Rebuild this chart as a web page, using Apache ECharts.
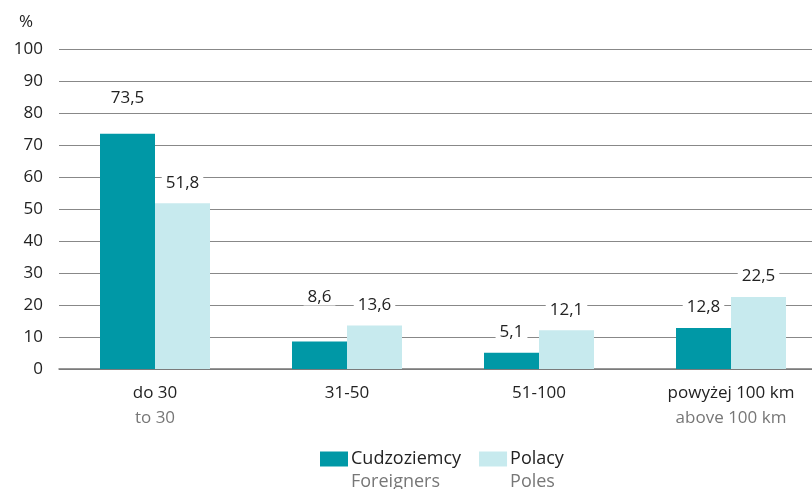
<!DOCTYPE html>
<html>
<head>
<meta charset="utf-8">
<script src="https://cdn.jsdelivr.net/npm/echarts@6/dist/echarts.min.js"></script>
<style>
  html, body { margin: 0; padding: 0; background: #fff; }
  #chart { width: 812px; height: 489px; }
</style>
</head>
<body>
<div id="chart"></div>
<script>
var categoriesPl = ["do 30", "31-50", "51-100", "powyżej 100 km"];
var categoriesEn = ["to 30", "", "", "above 100 km"];
var foreigners = [73.5, 8.6, 5.1, 12.8];
var poles = [51.8, 13.6, 12.1, 22.5];
var seriesPl = ["Cudzoziemcy", "Polacy"];
var seriesEn = ["Foreigners", "Poles"];

var FONT = "Open Sans";
var dom = document.getElementById("chart"), myChart = echarts.init(dom);

// extra lift for a couple of value labels, as placed in the original
var labelLift = [[15, 24, 0, 0], [0, 0, 0, 0]];

function fmt(v) { return String(v.toFixed(1)).replace(".", ","); }

function barSeries(idx, values, color) {
    return {
        name: seriesPl[idx],
        type: "bar",
        barWidth: 55,
        barGap: 0,
        itemStyle: { color: color },
        label: {
            show: true,
            position: "top",
            distance: 12,
            color: "#222",
            fontSize: 17,
            fontFamily: FONT,
            backgroundColor: "#fff",
            padding: [0, 4],
            formatter: function (p) { return fmt(p.value); }
        },
        data: values.map(function (v, i) {
            return { value: v, label: { distance: 12 + labelLift[idx][i] } };
        })
    };
}

var option = {
    animation: false,
    textStyle: { fontFamily: FONT },
    grid: { left: 59, width: 768, top: 49, bottom: 120, containLabel: false, outerBoundsMode: "none" },
    xAxis: {
        type: "category",
        data: categoriesPl,
        axisLine: { lineStyle: { color: "#777", width: 1.5 } },
        axisTick: { show: false },
        axisLabel: {
            margin: 12,
            formatter: function (v, i) {
                return "{a|" + v + "}\n{b|" + categoriesEn[i] + "}";
            },
            rich: {
                a: { fontSize: 17, color: "#222", lineHeight: 25, fontFamily: FONT },
                b: { fontSize: 17, color: "#777", lineHeight: 25, fontFamily: FONT }
            }
        }
    },
    yAxis: {
        type: "value",
        min: 0, max: 100, interval: 10,
        name: "%",
        nameGap: 18,
        nameTextStyle: { fontSize: 17, color: "#222", align: "right", padding: [0, 26, 0, 0], fontFamily: FONT },
        axisLine: { show: false },
        axisTick: { show: false },
        axisLabel: { fontSize: 17, color: "#222", margin: 16, fontFamily: FONT },
        splitLine: { lineStyle: { color: "#888", width: 1 } }
    },
    legend: {
        bottom: -7,
        left: 315,
        itemWidth: 28,
        itemHeight: 15,
        itemGap: 18,
        icon: "rect",
        data: seriesPl,
        formatter: function (n) {
            var i = seriesPl.indexOf(n);
            return "{e| }\n{a|" + n + "}\n{b|" + seriesEn[i] + "}";
        },
        textStyle: {
            padding: [0, 0, 0, -2],
            rich: {
                e: { fontSize: 18, lineHeight: 23 },
                a: { fontSize: 18, color: "#222", lineHeight: 23, fontFamily: FONT },
                b: { fontSize: 18, color: "#777", lineHeight: 23, fontFamily: FONT }
            }
        }
    },
    series: [
        barSeries(0, foreigners, "#0098a6"),
        barSeries(1, poles, "#c7eaee")
    ]
};
myChart.setOption(option);
</script>
</body>
</html>
